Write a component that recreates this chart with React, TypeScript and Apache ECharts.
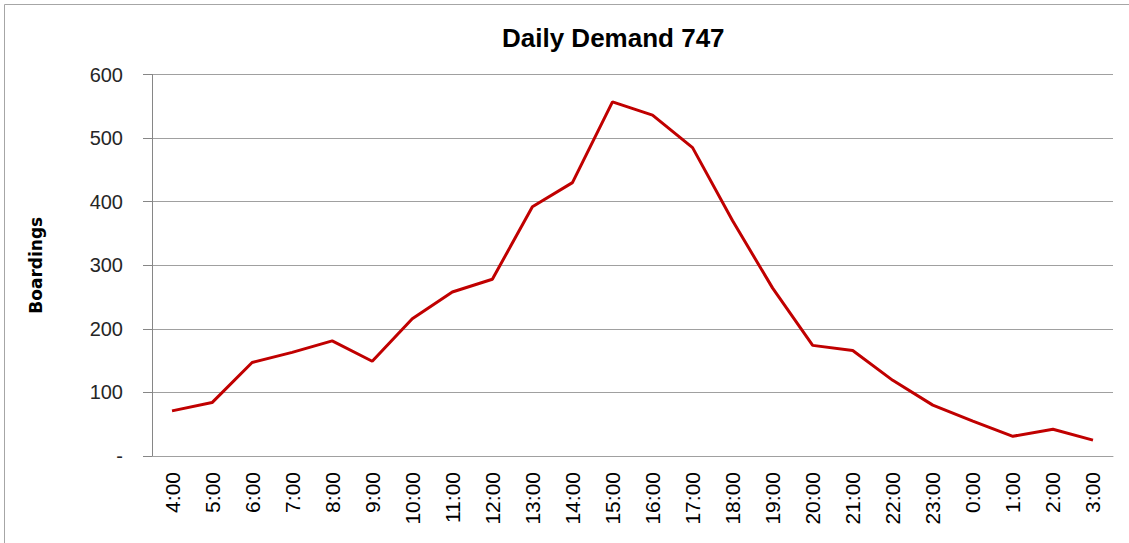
import React, { useEffect, useRef } from "react";
import * as echarts from "echarts";

const hours = [
  "4:00", "5:00", "6:00", "7:00", "8:00", "9:00", "10:00", "11:00",
  "12:00", "13:00", "14:00", "15:00", "16:00", "17:00", "18:00", "19:00",
  "20:00", "21:00", "22:00", "23:00", "0:00", "1:00", "2:00", "3:00",
];

const boardings = [
  71, 84, 147, 163, 181, 149, 216, 258,
  278, 392, 430, 557, 536, 485, 370, 264,
  174, 166, 119, 80, 55, 31, 42, 25,
];

const yTicks = [0, 100, 200, 300, 400, 500, 600];

export default function App() {
  const ref = useRef<HTMLDivElement>(null);

  useEffect(() => {
    if (!ref.current) return;
    const chart = echarts.init(ref.current, undefined, { renderer: "svg" });
    chart.setOption({
      animation: false,
      backgroundColor: "#ffffff",
      title: {
        text: "Daily Demand 747",
        left: 497,
        top: 20,
        textStyle: {
          fontFamily: "Liberation Sans",
          fontWeight: "bold",
          fontSize: 26,
          color: "#000000",
        },
      },
      graphic: [
        {
          type: "rect",
          shape: { x: 4.5, y: 4.5, width: 1140, height: 560 },
          style: { fill: "none", stroke: "#a6a6a6", lineWidth: 1 },
          silent: true,
        },
      ],
      grid: { left: 152, right: 16, top: 74.5, bottom: 87, containLabel: false },
      xAxis: {
        type: "category",
        data: hours,
        boundaryGap: true,
        axisLine: { show: true, lineStyle: { color: "#a0a0a0", width: 1 } },
        axisTick: { show: false },
        splitLine: { show: false },
        axisLabel: {
          rotate: 90,
          interval: 0,
          margin: 16,
          fontFamily: "Liberation Sans",
          fontSize: 21,
          color: "#000000",
        },
      },
      yAxis: {
        type: "value",
        min: 0,
        max: yTicks[yTicks.length - 1],
        interval: 100,
        name: "Boardings",
        nameLocation: "middle",
        nameGap: 108,
        nameRotate: 90,
        nameTextStyle: {
          fontFamily: "DejaVu Sans",
          fontWeight: "bold",
          fontSize: 17,
          color: "#000000",
        },
        axisLine: { show: true, lineStyle: { color: "#868686", width: 1 } },
        axisTick: { show: true, inside: false, length: 9, lineStyle: { color: "#868686" } },
        splitLine: { show: true, lineStyle: { color: "#a0a0a0", width: 1 } },
        axisLabel: {
          margin: 29,
          fontFamily: "Liberation Sans",
          fontSize: 20,
          color: "#262626",
          formatter: (v: number) => (v === 0 ? "-" : String(v)),
        },
      },
      series: [
        {
          type: "line",
          data: boardings,
          showSymbol: false,
          symbol: "none",
          smooth: false,
          lineStyle: { color: "#c00000", width: 3 },
          itemStyle: { color: "#c00000" },
        },
      ],
    });
    return () => chart.dispose();
  }, []);

  return (
    <div
      ref={ref}
      style={{ position: "fixed", left: 0, top: 0, width: 1129, height: 543 }}
    />
  );
}
